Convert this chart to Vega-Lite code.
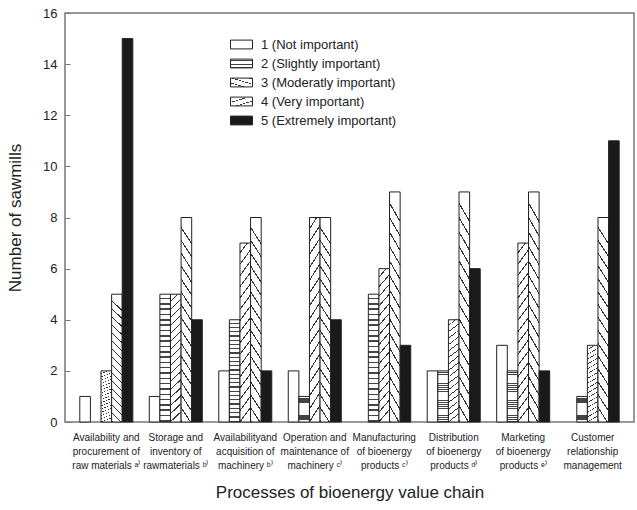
{
  "$schema": "https://vega.github.io/schema/vega-lite/v6.json",
  "width": 569,
  "height": 409,
  "autosize": {"type": "none"},
  "padding": {"left": 65, "top": 13, "right": 3, "bottom": 88},
  "background": "white",
  "config": {
    "font": "Liberation Sans",
    "view": {"stroke": "#777", "strokeWidth": 1.5}
  },
  "data": {
    "values": [
      {"process": "Availability and|procurement of|raw materials ᵃ⁾", "level": "1 (Not important)", "count": 1},
      {"process": "Availability and|procurement of|raw materials ᵃ⁾", "level": "2 (Slightly important)", "count": 0},
      {"process": "Availability and|procurement of|raw materials ᵃ⁾", "level": "3 (Moderatly important)", "count": 2},
      {"process": "Availability and|procurement of|raw materials ᵃ⁾", "level": "4 (Very important)", "count": 5},
      {"process": "Availability and|procurement of|raw materials ᵃ⁾", "level": "5 (Extremely important)", "count": 15},
      {"process": "Storage and|inventory of|rawmaterials ᵇ⁾", "level": "1 (Not important)", "count": 1},
      {"process": "Storage and|inventory of|rawmaterials ᵇ⁾", "level": "2 (Slightly important)", "count": 5},
      {"process": "Storage and|inventory of|rawmaterials ᵇ⁾", "level": "3 (Moderatly important)", "count": 5},
      {"process": "Storage and|inventory of|rawmaterials ᵇ⁾", "level": "4 (Very important)", "count": 8},
      {"process": "Storage and|inventory of|rawmaterials ᵇ⁾", "level": "5 (Extremely important)", "count": 4},
      {"process": "Availabilityand|acquisition of|machinery ᵇ⁾", "level": "1 (Not important)", "count": 2},
      {"process": "Availabilityand|acquisition of|machinery ᵇ⁾", "level": "2 (Slightly important)", "count": 4},
      {"process": "Availabilityand|acquisition of|machinery ᵇ⁾", "level": "3 (Moderatly important)", "count": 7},
      {"process": "Availabilityand|acquisition of|machinery ᵇ⁾", "level": "4 (Very important)", "count": 8},
      {"process": "Availabilityand|acquisition of|machinery ᵇ⁾", "level": "5 (Extremely important)", "count": 2},
      {"process": "Operation and|maintenance of|machinery ᶜ⁾", "level": "1 (Not important)", "count": 2},
      {"process": "Operation and|maintenance of|machinery ᶜ⁾", "level": "2 (Slightly important)", "count": 1},
      {"process": "Operation and|maintenance of|machinery ᶜ⁾", "level": "3 (Moderatly important)", "count": 8},
      {"process": "Operation and|maintenance of|machinery ᶜ⁾", "level": "4 (Very important)", "count": 8},
      {"process": "Operation and|maintenance of|machinery ᶜ⁾", "level": "5 (Extremely important)", "count": 4},
      {"process": "Manufacturing|of bioenergy|products ᶜ⁾", "level": "1 (Not important)", "count": 0},
      {"process": "Manufacturing|of bioenergy|products ᶜ⁾", "level": "2 (Slightly important)", "count": 5},
      {"process": "Manufacturing|of bioenergy|products ᶜ⁾", "level": "3 (Moderatly important)", "count": 6},
      {"process": "Manufacturing|of bioenergy|products ᶜ⁾", "level": "4 (Very important)", "count": 9},
      {"process": "Manufacturing|of bioenergy|products ᶜ⁾", "level": "5 (Extremely important)", "count": 3},
      {"process": "Distribution|of bioenergy|products ᵈ⁾", "level": "1 (Not important)", "count": 2},
      {"process": "Distribution|of bioenergy|products ᵈ⁾", "level": "2 (Slightly important)", "count": 2},
      {"process": "Distribution|of bioenergy|products ᵈ⁾", "level": "3 (Moderatly important)", "count": 4},
      {"process": "Distribution|of bioenergy|products ᵈ⁾", "level": "4 (Very important)", "count": 9},
      {"process": "Distribution|of bioenergy|products ᵈ⁾", "level": "5 (Extremely important)", "count": 6},
      {"process": "Marketing|of bioenergy|products ᵉ⁾", "level": "1 (Not important)", "count": 3},
      {"process": "Marketing|of bioenergy|products ᵉ⁾", "level": "2 (Slightly important)", "count": 2},
      {"process": "Marketing|of bioenergy|products ᵉ⁾", "level": "3 (Moderatly important)", "count": 7},
      {"process": "Marketing|of bioenergy|products ᵉ⁾", "level": "4 (Very important)", "count": 9},
      {"process": "Marketing|of bioenergy|products ᵉ⁾", "level": "5 (Extremely important)", "count": 2},
      {"process": "Customer|relationship|management", "level": "1 (Not important)", "count": 0},
      {"process": "Customer|relationship|management", "level": "2 (Slightly important)", "count": 1},
      {"process": "Customer|relationship|management", "level": "3 (Moderatly important)", "count": 3},
      {"process": "Customer|relationship|management", "level": "4 (Very important)", "count": 8},
      {"process": "Customer|relationship|management", "level": "5 (Extremely important)", "count": 11}
    ]
  },
  "transform": [{"filter": "datum.count > 0"}],
  "mark": {"type": "bar", "stroke": "#222", "strokeWidth": 1},
  "encoding": {
    "x": {
      "field": "process",
      "type": "nominal",
      "sort": null,
      "scale": {"paddingInner": 0.237, "paddingOuter": 0.213},
      "axis": {
        "labelAngle": 0,
        "labelExpr": "split(datum.label, '|')",
        "labelFontSize": 10,
        "labelLineHeight": 14,
        "labelColor": "#222",
        "labelPadding": 10,
        "labelLimit": 0,
        "domain": false,
        "ticks": false,
        "title": "Processes of bioenergy value chain",
        "titleFontSize": 17,
        "titleFontWeight": "normal",
        "titleColor": "#222",
        "titlePadding": 14
      }
    },
    "xOffset": {
      "field": "level",
      "type": "nominal",
      "scale": {"paddingInner": 0, "paddingOuter": 0}
    },
    "y": {
      "field": "count",
      "type": "quantitative",
      "scale": {"domain": [0, 16], "nice": false},
      "axis": {
        "values": [0, 2, 4, 6, 8, 10, 12, 14, 16],
        "grid": false,
        "domain": false,
        "tickSize": -5,
        "tickColor": "#777",
        "labelPadding": 13,
        "labelFontSize": 13,
        "labelColor": "#222",
        "title": "Number of sawmills",
        "titleFontSize": 17,
        "titleFontWeight": "normal",
        "titleColor": "#222",
        "titlePadding": 18
      }
    },
    "fill": {
      "field": "level",
      "type": "nominal",
      "scale": {
        "range": [
          "white",
          {"expr": "{gradient:'linear',x1:0,y1:0,x2:0,y2:1,stops:[{offset:0,color:'white'},{offset:0.02708,color:'white'},{offset:0.02708,color:'#444'},{offset:0.03958,color:'#444'},{offset:0.03958,color:'white'},{offset:0.06875,color:'white'},{offset:0.06875,color:'#444'},{offset:0.08125,color:'#444'},{offset:0.08125,color:'white'},{offset:0.11042,color:'white'},{offset:0.11042,color:'#444'},{offset:0.12292,color:'#444'},{offset:0.12292,color:'white'},{offset:0.15208,color:'white'},{offset:0.15208,color:'#444'},{offset:0.16458,color:'#444'},{offset:0.16458,color:'white'},{offset:0.19375,color:'white'},{offset:0.19375,color:'#444'},{offset:0.20625,color:'#444'},{offset:0.20625,color:'white'},{offset:0.23542,color:'white'},{offset:0.23542,color:'#444'},{offset:0.24792,color:'#444'},{offset:0.24792,color:'white'},{offset:0.27708,color:'white'},{offset:0.27708,color:'#444'},{offset:0.28958,color:'#444'},{offset:0.28958,color:'white'},{offset:0.31875,color:'white'},{offset:0.31875,color:'#444'},{offset:0.33125,color:'#444'},{offset:0.33125,color:'white'},{offset:0.36042,color:'white'},{offset:0.36042,color:'#444'},{offset:0.37292,color:'#444'},{offset:0.37292,color:'white'},{offset:0.40208,color:'white'},{offset:0.40208,color:'#444'},{offset:0.41458,color:'#444'},{offset:0.41458,color:'white'},{offset:0.44375,color:'white'},{offset:0.44375,color:'#444'},{offset:0.45625,color:'#444'},{offset:0.45625,color:'white'},{offset:0.48542,color:'white'},{offset:0.48542,color:'#444'},{offset:0.49792,color:'#444'},{offset:0.49792,color:'white'},{offset:0.52708,color:'white'},{offset:0.52708,color:'#444'},{offset:0.53958,color:'#444'},{offset:0.53958,color:'white'},{offset:0.56875,color:'white'},{offset:0.56875,color:'#444'},{offset:0.58125,color:'#444'},{offset:0.58125,color:'white'},{offset:0.61042,color:'white'},{offset:0.61042,color:'#444'},{offset:0.62292,color:'#444'},{offset:0.62292,color:'white'},{offset:0.65208,color:'white'},{offset:0.65208,color:'#444'},{offset:0.66458,color:'#444'},{offset:0.66458,color:'white'},{offset:0.69375,color:'white'},{offset:0.69375,color:'#444'},{offset:0.70625,color:'#444'},{offset:0.70625,color:'white'},{offset:0.73542,color:'white'},{offset:0.73542,color:'#444'},{offset:0.74792,color:'#444'},{offset:0.74792,color:'white'},{offset:0.77708,color:'white'},{offset:0.77708,color:'#444'},{offset:0.78958,color:'#444'},{offset:0.78958,color:'white'},{offset:0.81875,color:'white'},{offset:0.81875,color:'#444'},{offset:0.83125,color:'#444'},{offset:0.83125,color:'white'},{offset:0.86042,color:'white'},{offset:0.86042,color:'#444'},{offset:0.87292,color:'#444'},{offset:0.87292,color:'white'},{offset:0.90208,color:'white'},{offset:0.90208,color:'#444'},{offset:0.91458,color:'#444'},{offset:0.91458,color:'white'},{offset:0.94375,color:'white'},{offset:0.94375,color:'#444'},{offset:0.95625,color:'#444'},{offset:0.95625,color:'white'},{offset:0.98542,color:'white'},{offset:0.98542,color:'#444'},{offset:0.99792,color:'#444'},{offset:0.99792,color:'white'},{offset:1,color:'white'}]}"},
          {"expr": "{gradient:'linear',x1:0,y1:0,x2:0.08,y2:1,stops:[{offset:0,color:'white'},{offset:0.05,color:'white'},{offset:0.05,color:'#333'},{offset:0.059375,color:'#333'},{offset:0.059375,color:'white'},{offset:0.1125,color:'white'},{offset:0.1125,color:'#333'},{offset:0.121875,color:'#333'},{offset:0.121875,color:'white'},{offset:0.175,color:'white'},{offset:0.175,color:'#333'},{offset:0.184375,color:'#333'},{offset:0.184375,color:'white'},{offset:0.2375,color:'white'},{offset:0.2375,color:'#333'},{offset:0.246875,color:'#333'},{offset:0.246875,color:'white'},{offset:0.3,color:'white'},{offset:0.3,color:'#333'},{offset:0.309375,color:'#333'},{offset:0.309375,color:'white'},{offset:0.3625,color:'white'},{offset:0.3625,color:'#333'},{offset:0.371875,color:'#333'},{offset:0.371875,color:'white'},{offset:0.425,color:'white'},{offset:0.425,color:'#333'},{offset:0.434375,color:'#333'},{offset:0.434375,color:'white'},{offset:0.4875,color:'white'},{offset:0.4875,color:'#333'},{offset:0.496875,color:'#333'},{offset:0.496875,color:'white'},{offset:0.55,color:'white'},{offset:0.55,color:'#333'},{offset:0.559375,color:'#333'},{offset:0.559375,color:'white'},{offset:0.6125,color:'white'},{offset:0.6125,color:'#333'},{offset:0.621875,color:'#333'},{offset:0.621875,color:'white'},{offset:0.675,color:'white'},{offset:0.675,color:'#333'},{offset:0.684375,color:'#333'},{offset:0.684375,color:'white'},{offset:0.7375,color:'white'},{offset:0.7375,color:'#333'},{offset:0.746875,color:'#333'},{offset:0.746875,color:'white'},{offset:0.8,color:'white'},{offset:0.8,color:'#333'},{offset:0.809375,color:'#333'},{offset:0.809375,color:'white'},{offset:0.8625,color:'white'},{offset:0.8625,color:'#333'},{offset:0.871875,color:'#333'},{offset:0.871875,color:'white'},{offset:0.925,color:'white'},{offset:0.925,color:'#333'},{offset:0.934375,color:'#333'},{offset:0.934375,color:'white'},{offset:0.9875,color:'white'},{offset:0.9875,color:'#333'},{offset:0.996875,color:'#333'},{offset:0.996875,color:'white'},{offset:1,color:'white'}]}"},
          {"expr": "{gradient:'linear',x1:0.08,y1:0,x2:0,y2:1,stops:[{offset:0,color:'white'},{offset:0.05,color:'white'},{offset:0.05,color:'#333'},{offset:0.059375,color:'#333'},{offset:0.059375,color:'white'},{offset:0.1125,color:'white'},{offset:0.1125,color:'#333'},{offset:0.121875,color:'#333'},{offset:0.121875,color:'white'},{offset:0.175,color:'white'},{offset:0.175,color:'#333'},{offset:0.184375,color:'#333'},{offset:0.184375,color:'white'},{offset:0.2375,color:'white'},{offset:0.2375,color:'#333'},{offset:0.246875,color:'#333'},{offset:0.246875,color:'white'},{offset:0.3,color:'white'},{offset:0.3,color:'#333'},{offset:0.309375,color:'#333'},{offset:0.309375,color:'white'},{offset:0.3625,color:'white'},{offset:0.3625,color:'#333'},{offset:0.371875,color:'#333'},{offset:0.371875,color:'white'},{offset:0.425,color:'white'},{offset:0.425,color:'#333'},{offset:0.434375,color:'#333'},{offset:0.434375,color:'white'},{offset:0.4875,color:'white'},{offset:0.4875,color:'#333'},{offset:0.496875,color:'#333'},{offset:0.496875,color:'white'},{offset:0.55,color:'white'},{offset:0.55,color:'#333'},{offset:0.559375,color:'#333'},{offset:0.559375,color:'white'},{offset:0.6125,color:'white'},{offset:0.6125,color:'#333'},{offset:0.621875,color:'#333'},{offset:0.621875,color:'white'},{offset:0.675,color:'white'},{offset:0.675,color:'#333'},{offset:0.684375,color:'#333'},{offset:0.684375,color:'white'},{offset:0.7375,color:'white'},{offset:0.7375,color:'#333'},{offset:0.746875,color:'#333'},{offset:0.746875,color:'white'},{offset:0.8,color:'white'},{offset:0.8,color:'#333'},{offset:0.809375,color:'#333'},{offset:0.809375,color:'white'},{offset:0.8625,color:'white'},{offset:0.8625,color:'#333'},{offset:0.871875,color:'#333'},{offset:0.871875,color:'white'},{offset:0.925,color:'white'},{offset:0.925,color:'#333'},{offset:0.934375,color:'#333'},{offset:0.934375,color:'white'},{offset:0.9875,color:'white'},{offset:0.9875,color:'#333'},{offset:0.996875,color:'#333'},{offset:0.996875,color:'white'},{offset:1,color:'white'}]}"},
          "#1a1a1a"
        ]
      },
      "legend": {
        "title": null,
        "orient": "none",
        "legendX": 165,
        "legendY": 20,
        "symbolType": "M-1,-0.4H1V0.4H-1Z",
        "symbolSize": 484,
        "symbolStrokeColor": "#222",
        "symbolStrokeWidth": 1,
        "labelFontSize": 13,
        "labelColor": "#222",
        "labelOffset": 8,
        "rowPadding": -2,
        "labelLimit": 0
      }
    }
  }
}
